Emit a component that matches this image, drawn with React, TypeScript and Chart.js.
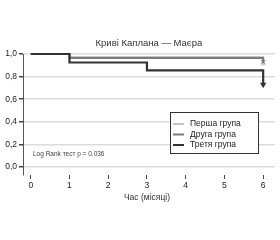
import React, { useEffect, useRef } from "react";
import { Chart, registerables } from "chart.js";

Chart.register(...registerables);

const chartTitle = "Криві Каплана — Маєра";
const xTitle = "Час (місяці)";
const noteText = "Log Rank тест p = 0.036";
const seriesNames = ["Перша група", "Друга група", "Третя група"];
const seriesColors = ["#c4c4c4", "#7a7a7a", "#333333"];
const seriesWidths = [1.5, 2, 2.2];

const group1Times = [0, 1, 6];
const group1Surv = [1.0, 0.975, 0.905];
const group2Times = [0, 1, 6];
const group2Surv = [1.0, 0.965, 0.93];
const group3Times = [0, 1, 3, 6];
const group3Surv = [1.0, 0.925, 0.855, 0.73];

const FONT = "'Liberation Sans', Arial, sans-serif";

function pts(t: number[], s: number[]) {
  return t.map((x, i) => ({ x, y: s[i] }));
}

const textPlugin = {
  id: "texts",
  afterDraw(chart: any) {
    const ctx = chart.ctx;
    const ca = chart.chartArea;
    ctx.save();
    ctx.fillStyle = "#333";
    ctx.textAlign = "center";
    ctx.textBaseline = "middle";
    ctx.font = `9.5px ${FONT}`;
    ctx.fillText(chartTitle, (ca.left + ca.right) / 2, 43);
    ctx.font = `8.5px ${FONT}`;
    ctx.fillText(xTitle, chart.scales.x.getPixelForValue(3), 198);
    ctx.textAlign = "left";
    ctx.font = `6.5px ${FONT}`;
    ctx.fillStyle = "#444";
    ctx.fillText(noteText, 33, 154);
    // legend
    const bx = 170.5, by = 112.5, bw = 88, bh = 41;
    ctx.fillStyle = "#fff";
    ctx.fillRect(bx, by, bw, bh);
    ctx.strokeStyle = "#333";
    ctx.lineWidth = 1;
    ctx.strokeRect(bx, by, bw, bh);
    ctx.font = `8.5px ${FONT}`;
    seriesNames.forEach((n, i) => {
      const yy = 124 + i * 10.5;
      ctx.strokeStyle = seriesColors[i];
      ctx.lineWidth = 2;
      ctx.beginPath();
      ctx.moveTo(173, yy);
      ctx.lineTo(184, yy);
      ctx.stroke();
      ctx.fillStyle = "#222";
      ctx.fillText(n, 190, yy);
    });
    ctx.restore();
  },
};

export default function App() {
  const ref = useRef<HTMLCanvasElement | null>(null);
  useEffect(() => {
    if (!ref.current) return;
    const sets = [
      pts(group1Times, group1Surv),
      pts(group2Times, group2Surv),
      pts(group3Times, group3Surv),
    ];
    const styles = ["line", "crossRot", "triangle"];
    const chart = new Chart(ref.current, {
      type: "line",
      data: {
        datasets: sets.map((d, i) => ({
          label: seriesNames[i],
          data: d,
          stepped: "before" as const,
          borderColor: seriesColors[i],
          backgroundColor: seriesColors[i],
          borderWidth: seriesWidths[i],
          pointRadius: d.map((_, j) => (j === d.length - 1 ? (i === 2 ? 2.5 : 2.5) : 0)),
          pointStyle: styles[i] as any,
          pointRotation: i === 2 ? 180 : 0,
          pointBorderWidth: 1.2,
          fill: false,
          clip: false as any,
          order: 3 - i,
        })),
      },
      options: {
        animation: false,
        responsive: true,
        maintainAspectRatio: false,
        layout: { padding: { top: 54, right: 2, left: 0, bottom: 0 } },
        plugins: {
          legend: { display: false },
          title: { display: false },
          tooltip: { enabled: false },
        },
        scales: {
          x: {
            type: "linear",
            min: -0.2,
            max: 6.3,
            afterFit: (s: any) => {
              s.height = 65;
            },
            ticks: {
              stepSize: 1,
              includeBounds: false,
              padding: 2,
              color: "#222",
              font: { family: FONT, size: 8.5 },
            },
            grid: {
              drawOnChartArea: false,
              drawTicks: true,
              tickLength: 4,
              tickColor: "#444",
            },
            border: { display: false },
          },
          y: {
            min: -0.07,
            max: 1.0,
            afterFit: (s: any) => {
              s.width = 23;
            },
            ticks: {
              stepSize: 0.2,
              includeBounds: false,
              padding: 2,
              color: "#222",
              font: { family: FONT, size: 8.5 },
              callback: (v: any) => {
                const n = Math.abs(v) < 1e-9 ? 0 : Number(v);
                return n.toFixed(1).replace(".", ",");
              },
            },
            grid: {
              color: "#dcdcdc",
              lineWidth: 1.5,
              tickLength: 4,
              tickColor: "#444",
            },
            border: { display: true, color: "#555", width: 1 },
          },
        },
      },
      plugins: [textPlugin],
    });
    return () => chart.destroy();
  }, []);
  return (
    <div style={{ position: "fixed", left: 0, top: 0, width: 280, height: 240, background: "#fff" }}>
      <canvas ref={ref} />
    </div>
  );
}
